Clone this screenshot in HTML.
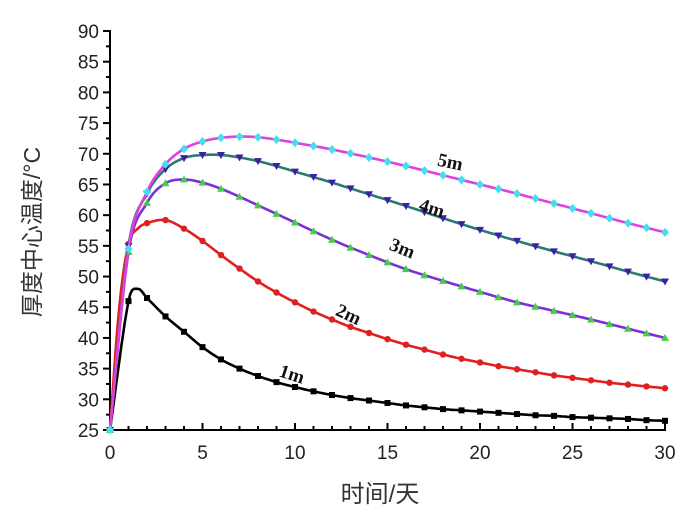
<!DOCTYPE html>
<html><head><meta charset="utf-8"><style>
html,body{margin:0;padding:0;background:#fff;width:700px;height:527px;overflow:hidden}
</style></head><body>
<svg id="s" width="700" height="527" xmlns="http://www.w3.org/2000/svg" font-family="Liberation Sans, sans-serif"></svg>
<script>
const s=document.getElementById('s');
const X=t=>110+t*(555/30), Y=v=>430-(v-25)*(399/65);
let h='';
h+=`<line x1="110" y1="30" x2="110" y2="431" stroke="#000" stroke-width="2"/>`;
h+=`<line x1="109" y1="430" x2="666" y2="430" stroke="#000" stroke-width="2"/>`;
for(let v=25;v<=90;v+=2.5){const y=Y(v);const maj=(v%5===0);
 h+=`<line x1="${maj?103:106}" y1="${y}" x2="110" y2="${y}" stroke="#000" stroke-width="2"/>`;
 if(maj)h+=`<text x="99" y="${y+7}" font-size="19" text-anchor="end" fill="#222">${v}</text>`;}
for(let t=0;t<=30;t++){const x=X(t);const maj=t%5===0;
 h+=`<line x1="${x}" y1="430" x2="${x}" y2="${maj?423:426}" stroke="#000" stroke-width="2"/>`;
 if(maj)h+=`<text x="${x}" y="459" font-size="19" text-anchor="middle" fill="#222">${t}</text>`;}
h+=`<text x="380" y="502" font-size="24" text-anchor="middle" fill="#333" font-family="Liberation Sans, Noto Sans CJK SC, sans-serif">时间/天</text>`;
h+=`<text transform="translate(40,232) rotate(-90)" font-size="23" text-anchor="middle" fill="#333" font-family="Liberation Sans, Noto Sans CJK SC, sans-serif">厚度中心温度/°C</text>`;
const D={
'1m':[[0,25],[1,46],[1.5,48],[2,46.5],[3,43.5],[4,41],[5,38.5],[6,36.5],[7,35],[8,33.8],[9,32.8],[10,32],[11,31.3],[12,30.7],[13,30.2],[14,29.8],[15,29.4],[16,29],[17,28.7],[18,28.4],[19,28.2],[20,28],[21,27.8],[22,27.6],[23,27.4],[24,27.3],[25,27.1],[26,27],[27,26.9],[28,26.8],[29,26.6],[30,26.5]],
'2m':[[0,25],[0.5,45],[1,55.3],[1.5,57.8],[2,58.7],[3,59.2],[4,57.8],[5,55.8],[6,53.5],[7,51.3],[8,49.2],[9,47.4],[10,45.8],[11,44.3],[12,43],[13,41.8],[14,40.8],[15,39.8],[16,38.9],[17,38.1],[18,37.3],[19,36.6],[20,36],[21,35.4],[22,34.9],[23,34.4],[24,33.9],[25,33.5],[26,33.1],[27,32.7],[28,32.4],[29,32.1],[30,31.8]],
'3m':[[0,25],[1,54],[2,62],[3,65.2],[4,65.8],[5,65.3],[6,64.3],[7,63],[8,61.6],[9,60.2],[10,58.8],[12,56],[14,53.5],[16,51.2],[18,49.3],[20,47.5],[22,45.8],[24,44.4],[26,43],[28,41.5],[30,40]],
'4m':[[0,25],[1,55],[2,63.5],[3,67.5],[4,69.3],[5,69.8],[6,69.8],[7,69.4],[8,68.8],[9,68],[10,67.1],[12,65.3],[14,63.4],[16,61.5],[18,59.5],[20,57.6],[22,55.8],[24,54.1],[26,52.5],[28,50.8],[30,49.2]],
'5m':[[0,25],[1,54.5],[2,63.8],[3,68.3],[4,70.8],[5,72],[6,72.6],[7,72.8],[8,72.7],[9,72.3],[10,71.8],[12,70.7],[14,69.4],[16,68],[18,66.5],[20,65],[22,63.5],[24,61.9],[26,60.3],[28,58.7],[30,57.2]]};
function interp(p,t){for(let i=0;i<p.length-1;i++){if(t>=p[i][0]&&t<=p[i+1][0]){
 const p0=p[Math.max(i-1,0)],p1=p[i],p2=p[i+1],p3=p[Math.min(i+2,p.length-1)];
 const u=(t-p1[0])/(p2[0]-p1[0]);const h=p2[0]-p1[0];
 const m1=(p2[1]-p0[1])/(p2[0]-p0[0]||1)*h, m2=(p3[1]-p1[1])/(p3[0]-p1[0]||1)*h;
 const u2=u*u,u3=u2*u;
 return (2*u3-3*u2+1)*p1[1]+(u3-2*u2+u)*m1+(-2*u3+3*u2)*p2[1]+(u3-u2)*m2;}}return p[p.length-1][1];}
const st={'1m':['#000','#000','sq'],'2m':['#e02020','#e02020','circ'],'3m':['#7a30d8','#40d040','up'],'4m':['#2a7a70','#3a20a8','down'],'5m':['#e040e0','#40e0f0','dia']};
for(const k of ['1m','2m','3m','4m','5m']){const p=D[k];let d='';
 for(let t=0;t<=30.001;t+=0.1){const tt=Math.min(t,30);d+=(d?'L':'M')+X(tt).toFixed(1)+','+Y(interp(p,tt)).toFixed(1);}
 h+=`<path d="${d}" fill="none" stroke="${st[k][0]}" stroke-width="2.6"/>`;
 for(let t=0;t<=30;t++){const x=X(t),y=Y(interp(p,t)),c=st[k][1];
  if(st[k][2]=='sq')h+=`<rect x="${x-3}" y="${y-3}" width="6" height="6" fill="${c}"/>`;
  else if(st[k][2]=='circ')h+=`<circle cx="${x}" cy="${y}" r="3.2" fill="${c}"/>`;
  else if(st[k][2]=='up')h+=`<path d="M${x},${y-4}L${x+4},${y+3}L${x-4},${y+3}Z" fill="${c}"/>`;
  else if(st[k][2]=='down')h+=`<path d="M${x},${y+4}L${x+4},${y-3}L${x-4},${y-3}Z" fill="${c}"/>`;
  else h+=`<path d="M${x},${y-4.5}L${x+4},${y}L${x},${y+4.5}L${x-4},${y}Z" fill="${c}"/>`;}}
const L=[['5m',449,168,12],['4m',430,214,18],['3m',400,254,22],['2m',346,320,25],['1m',290,380,18]];
for(const [t,x,y,r] of L)h+=`<text transform="translate(${x},${y}) rotate(${r})" font-family="Liberation Serif, serif" font-weight="bold" font-size="19" text-anchor="middle" fill="#111">${t}</text>`;
s.innerHTML=h;
</script>
</body></html>
